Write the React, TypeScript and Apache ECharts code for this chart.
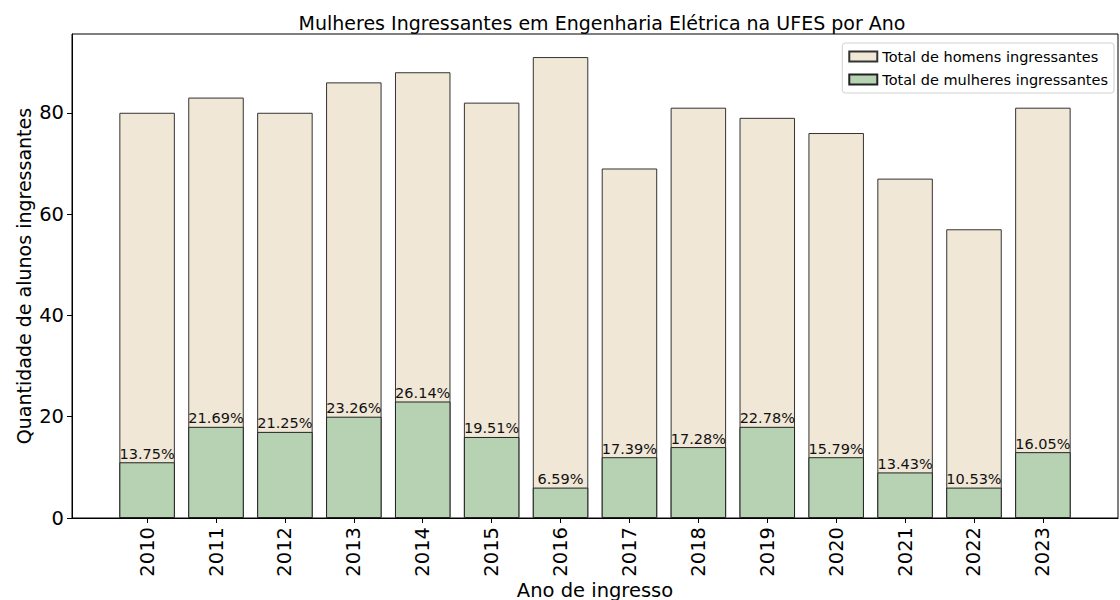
import React, { useEffect, useRef } from "react";
import * as echarts from "echarts";

const years = ["2010", "2011", "2012", "2013", "2014", "2015", "2016", "2017", "2018", "2019", "2020", "2021", "2022", "2023"];
const totalIngressantes = [80, 83, 80, 86, 88, 82, 91, 69, 81, 79, 76, 67, 57, 81];
const mulheresIngressantes = [11, 18, 17, 20, 23, 16, 6, 12, 14, 18, 12, 9, 6, 13];
const yTicks = [0, 20, 40, 60, 80];

const FONT = "DejaVu Sans";

export default function App() {
  const ref = useRef<HTMLDivElement>(null);
  useEffect(() => {
    if (!ref.current) return;
    const chart = echarts.init(ref.current, null, { renderer: "svg" });
    const idx = years.map((_, i) => i);
    const option = {
      animation: false,
      backgroundColor: "#ffffff",
      textStyle: { fontFamily: FONT, color: "#000" },
      title: {
        text: "Mulheres Ingressantes em Engenharia Elétrica na UFES por Ano",
        left: 597,
        textAlign: "center",
        top: 8,
        textStyle: { fontFamily: FONT, fontSize: 19, fontWeight: "normal", color: "#000" },
      },
      legend: {
        orient: "vertical",
        right: 6,
        top: 43,
        itemWidth: 28,
        itemHeight: 10,
        itemGap: 8,
        padding: [6, 6, 6, 6],
        borderColor: "#d0d0d0",
        borderWidth: 1,
        borderRadius: 3,
        icon: "rect",
        textStyle: { fontFamily: FONT, fontSize: 14.5, color: "#000" },
        data: ["Total de homens ingressantes", "Total de mulheres ingressantes"],
      },
      grid: {
        left: 72,
        right: 2,
        top: 34,
        bottom: 82,
        outerBoundsMode: "none",
        containLabel: false,
        show: true,
        borderColor: "#000",
        borderWidth: 1,
        backgroundColor: "transparent",
      },
      xAxis: {
        type: "value",
        min: -1.09,
        max: 14.09,
        name: "Ano de ingresso",
        nameLocation: "middle",
        nameGap: 62,
        nameMoveOverlap: false,
        nameTextStyle: { fontFamily: FONT, fontSize: 19.5, color: "#000" },
        axisLine: { show: true, onZero: false, lineStyle: { color: "#000", width: 1 } },
        axisTick: { show: true, customValues: idx, length: 5, lineStyle: { color: "#000" } },
        axisLabel: {
          customValues: idx,
          rotate: 90,
          margin: 9,
          fontFamily: FONT,
          fontSize: 19.5,
          color: "#000",
          formatter: (v: number) => years[Math.round(v)] ?? "",
        },
        splitLine: { show: false },
      },
      yAxis: {
        type: "value",
        min: 0,
        max: 95.55,
        name: "Quantidade de alunos ingressantes",
        nameLocation: "middle",
        nameGap: 39,
        nameMoveOverlap: false,
        nameTextStyle: { fontFamily: FONT, fontSize: 19, color: "#000" },
        axisLine: { show: true, onZero: false, lineStyle: { color: "#000", width: 1 } },
        axisTick: { show: true, customValues: yTicks, length: 5, lineStyle: { color: "#000" } },
        axisLabel: { customValues: yTicks, margin: 8, fontFamily: FONT, fontSize: 19.5, color: "#000" },
        splitLine: { show: false },
      },
      series: [
        {
          name: "Total de homens ingressantes",
          type: "bar",
          barWidth: 55.5,
          barGap: "-100%",
          data: totalIngressantes.map((v, i) => [i, v]),
          itemStyle: { color: "#f0e7d7", borderColor: "#333", borderWidth: 1 },
        },
        {
          name: "Total de mulheres ingressantes",
          type: "bar",
          barWidth: 55.5,
          barGap: "-100%",
          data: mulheresIngressantes.map((v, i) => [i, v]),
          itemStyle: { color: "#b6d2b3", borderColor: "#222", borderWidth: 1 },
          label: {
            show: true,
            position: "top",
            distance: 1,
            fontFamily: FONT,
            fontSize: 14.5,
            color: "#111",
            formatter: (p: any) => {
              const i = p.dataIndex;
              return ((mulheresIngressantes[i] / totalIngressantes[i]) * 100).toFixed(2) + "%";
            },
          },
        },
      ],
    };
    chart.setOption(option as any);
    return () => chart.dispose();
  }, []);
  return (
    <div
      ref={ref}
      style={{ position: "fixed", left: 0, top: 0, width: 1120, height: 600, background: "#fff" }}
    />
  );
}
